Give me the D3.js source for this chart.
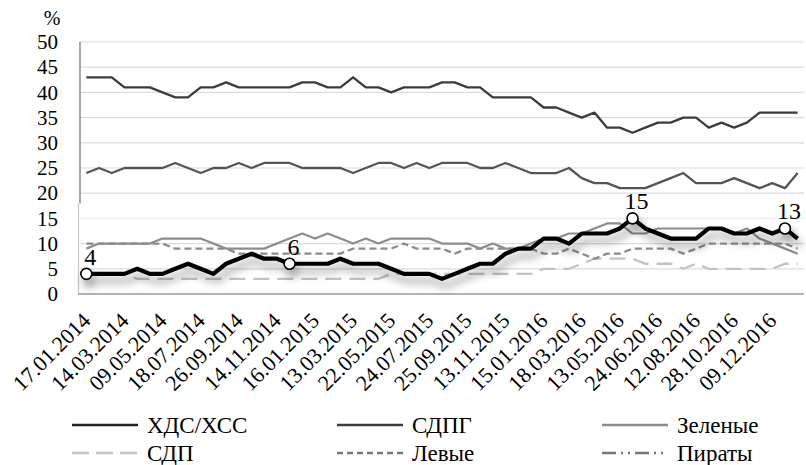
<!DOCTYPE html>
<html>
<head>
<meta charset="utf-8">
<script src="https://cdn.jsdelivr.net/npm/d3@7"></script>
<style>
  body { margin: 0; background: #fff; }
</style>
</head>
<body>
<div id="chart"></div>
<script>
// Poll results, %, 57 dates, every third one labelled
const tickLabels = ['17.01.2014', '14.03.2014', '09.05.2014', '18.07.2014', '26.09.2014', '14.11.2014',
  '16.01.2015', '13.03.2015', '22.05.2015', '24.07.2015', '25.09.2015', '13.11.2015', '15.01.2016',
  '18.03.2016', '13.05.2016', '24.06.2016', '12.08.2016', '28.10.2016', '09.12.2016']
const tickEvery = 3
const yTicks = [0, 5, 10, 15, 20, 25, 30, 35, 40, 45, 50]

const cduCsu = [43, 43, 43, 41, 41, 41, 40, 39, 39, 41, 41, 42, 41, 41, 41, 41, 41, 42, 42, 41, 41, 43, 41, 41, 40, 41, 41, 41, 42, 42,
  41, 41, 39, 39, 39, 39, 37, 37, 36, 35, 36, 33, 33, 32, 33, 34, 34, 35, 35, 33, 34, 33, 34, 36, 36, 36, 36]
const spd = [24, 25, 24, 25, 25, 25, 25, 26, 25, 24, 25, 25, 26, 25, 26, 26, 26, 25, 25, 25, 25, 24, 25, 26, 26, 25, 26, 25, 26, 26,
  26, 25, 25, 26, 25, 24, 24, 24, 25, 23, 22, 22, 21, 21, 21, 22, 23, 24, 22, 22, 22, 23, 22, 21, 22, 21, 24]
const greens = [9, 10, 10, 10, 10, 10, 11, 11, 11, 11, 10, 9, 9, 9, 9, 10, 11, 12, 11, 12, 11, 10, 11, 10, 11, 11, 11, 11, 10, 10,
  10, 9, 10, 9, 9, 10, 11, 11, 12, 12, 13, 14, 14, 12, 12, 13, 13, 13, 13, 13, 13, 12, 13, 11, 10, 9, 8]
const fdp = [4, 4, 4, 4, 3, 3, 3, 3, 3, 3, 3, 3, 3, 3, 3, 3, 3, 3, 3, 3, 3, 3, 3, 3, 4, 4, 4, 4, 4, 4,
  4, 4, 4, 4, 4, 4, 5, 5, 5, 6, 7, 7, 7, 7, 6, 6, 6, 5, 6, 5, 5, 5, 5, 5, 5, 6, 6]
const left = [10, 10, 10, 10, 10, 10, 10, 9, 9, 9, 9, 9, 8, 8, 8, 8, 8, 8, 8, 8, 8, 9, 9, 9, 9, 10, 9, 9, 9, 8,
  9, 9, 9, 9, 9, 9, 8, 8, 9, 8, 7, 8, 8, 9, 9, 9, 9, 8, 9, 10, 10, 10, 10, 10, 10, 10, 9]
// bold pasted-in line (no legend entry), with marked points
const afd = [4, 4, 4, 4, 5, 4, 4, 5, 6, 5, 4, 6, 7, 8, 7, 7, 6, 6, 6, 6, 7, 6, 6, 6, 5, 4, 4, 4, 3, 4,
  5, 6, 6, 8, 9, 9, 11, 11, 10, 12, 12, 12, 13, 15, 13, 12, 11, 11, 11, 13, 13, 12, 12, 13, 12, 13, 11]
const afdMarked = [0, 16, 43, 55]

const legendNames = ['ХДС/ХСС', 'СДПГ', 'Зеленые', 'СДП', 'Левые', 'Пираты']

const serif = 'Liberation Serif, Tinos, Times New Roman, DejaVu Serif, serif'

var width = 806
var height = 465
var plot = { left: 80, right: 804, top: 42, bottom: 294 }

var svg = d3.select('#chart').append('svg')
  .attr('width', width)
  .attr('height', height)
  .attr('font-family', serif)

var defs = svg.append('defs')
var f = defs.append('filter').attr('id', 'shadow')
  .attr('x', '-10%').attr('y', '-60%').attr('width', '120%').attr('height', '220%')
f.append('feGaussianBlur').attr('in', 'SourceAlpha').attr('stdDeviation', 4)
f.append('feOffset').attr('dx', 3).attr('dy', 7).attr('result', 'off')
f.append('feComponentTransfer').append('feFuncA').attr('type', 'linear').attr('slope', 0.4)
var fm = f.append('feMerge')
fm.append('feMergeNode')
fm.append('feMergeNode').attr('in', 'SourceGraphic')

const x = d3.scalePoint()
  .domain(d3.range(cduCsu.length))
  .range([plot.left, plot.right])
  .padding(0.5)

const y = d3.scaleLinear()
  .domain([0, 50])
  .range([plot.bottom, plot.top])

// gridlines
svg.append('g').selectAll('line')
  .data(yTicks.filter(d => d > 0))
  .enter().append('line')
  .attr('x1', plot.left).attr('x2', plot.right)
  .attr('y1', d => y(d)).attr('y2', d => y(d))
  .attr('stroke', d => d === 15 ? '#ececec' : '#dcdcdc')
  .attr('stroke-width', 1.2)

// axis lines
svg.append('line')
  .attr('x1', plot.left).attr('x2', plot.left)
  .attr('y1', plot.top).attr('y2', y(18))
  .attr('stroke', '#8a8a8a').attr('stroke-width', 1.5)
svg.append('line')
  .attr('x1', plot.left - 1.5).attr('x2', plot.left - 1.5)
  .attr('y1', y(18)).attr('y2', plot.bottom)
  .attr('stroke', '#c4c4c4').attr('stroke-width', 1.2)
svg.append('line')
  .attr('x1', plot.left - 2).attr('x2', plot.right)
  .attr('y1', plot.bottom).attr('y2', plot.bottom)
  .attr('stroke', '#9a9a9a').attr('stroke-width', 1.5)

// y axis
var yAxis = svg.append('g')
  .attr('transform', `translate(${plot.left},0)`)
  .call(d3.axisLeft(y).tickValues(yTicks).tickSize(0).tickPadding(22))
yAxis.attr('font-family', serif).attr('font-size', 21)
yAxis.select('.domain').remove()
yAxis.selectAll('text').attr('fill', '#000')

svg.append('text')
  .text('%')
  .attr('x', 52).attr('y', 25)
  .attr('text-anchor', 'middle')
  .attr('font-size', 20)

// x axis
var xAxis = svg.append('g')
  .attr('transform', `translate(0,${plot.bottom})`)
  .call(d3.axisBottom(x)
    .tickValues(d3.range(0, cduCsu.length, tickEvery))
    .tickFormat((d, i) => tickLabels[i])
    .tickSize(0))
xAxis.attr('font-family', serif).attr('font-size', 22)
xAxis.select('.domain').remove()
xAxis.selectAll('text')
  .attr('y', 0).attr('dy', 0)
  .attr('fill', '#000')
  .attr('text-anchor', 'end')
  .attr('transform', 'translate(5,28) rotate(-45)')

// series
const line = d3.line()
  .x((d, i) => x(i))
  .y(d => y(d))

const series = [
  { data: cduCsu, color: '#3c3c3c', width: 2.3, dash: null },
  { data: spd, color: '#555555', width: 2.3, dash: null },
  { data: greens, color: '#8c8c8c', width: 2.2, dash: null },
  { data: fdp, color: '#c2c2c2', width: 2.3, dash: '16,8' },
  { data: left, color: '#8c8c8c', width: 2.3, dash: '7,4' }
]
const legendStyle = [
  { color: '#222', dash: null },
  { color: '#3c3c3c', dash: null },
  { color: '#8c8c8c', dash: null },
  { color: '#c2c2c2', dash: '17,7' },
  { color: '#777', dash: '6,4' },
  { color: '#777', dash: '14,5,2,5,2,5' }
]

svg.append('g').selectAll('path')
  .data(series)
  .enter().append('path')
  .attr('d', d => line(d.data))
  .attr('fill', 'none')
  .attr('stroke', d => d.color)
  .attr('stroke-width', d => d.width)
  .attr('stroke-dasharray', d => d.dash)
  .attr('stroke-linejoin', 'round')

// bold line with shadow
var bold = svg.append('g').attr('filter', 'url(#shadow)')
bold.append('path')
  .attr('d', line(afd))
  .attr('fill', 'none')
  .attr('stroke', '#000')
  .attr('stroke-width', 4.2)
  .attr('stroke-linejoin', 'round')

bold.selectAll('circle')
  .data(afdMarked)
  .enter().append('circle')
  .attr('cx', d => x(d))
  .attr('cy', d => y(afd[d]))
  .attr('r', 5.5)
  .attr('fill', '#fff')
  .attr('stroke', '#000')
  .attr('stroke-width', 1.6)

svg.append('g').selectAll('text')
  .data(afdMarked)
  .enter().append('text')
  .text(d => afd[d])
  .attr('x', d => x(d) + 4)
  .attr('y', d => y(afd[d]) - 9)
  .attr('text-anchor', 'middle')
  .attr('font-size', 24)

// legend, 3 columns x 2 rows
var legend = svg.append('g').selectAll('g')
  .data(legendNames)
  .enter().append('g')
  .attr('transform', (d, i) => `translate(${72 + (i % 3) * 265},${425 + Math.floor(i / 3) * 28})`)

legend.append('line')
  .attr('x1', 0).attr('x2', 66)
  .attr('stroke', (d, i) => legendStyle[i].color)
  .attr('stroke-width', 2.3)
  .attr('stroke-dasharray', (d, i) => legendStyle[i].dash)

legend.append('text')
  .text(d => d)
  .attr('x', 75)
  .attr('dy', '0.33em')
  .attr('font-size', 23)
</script>
</body>
</html>
